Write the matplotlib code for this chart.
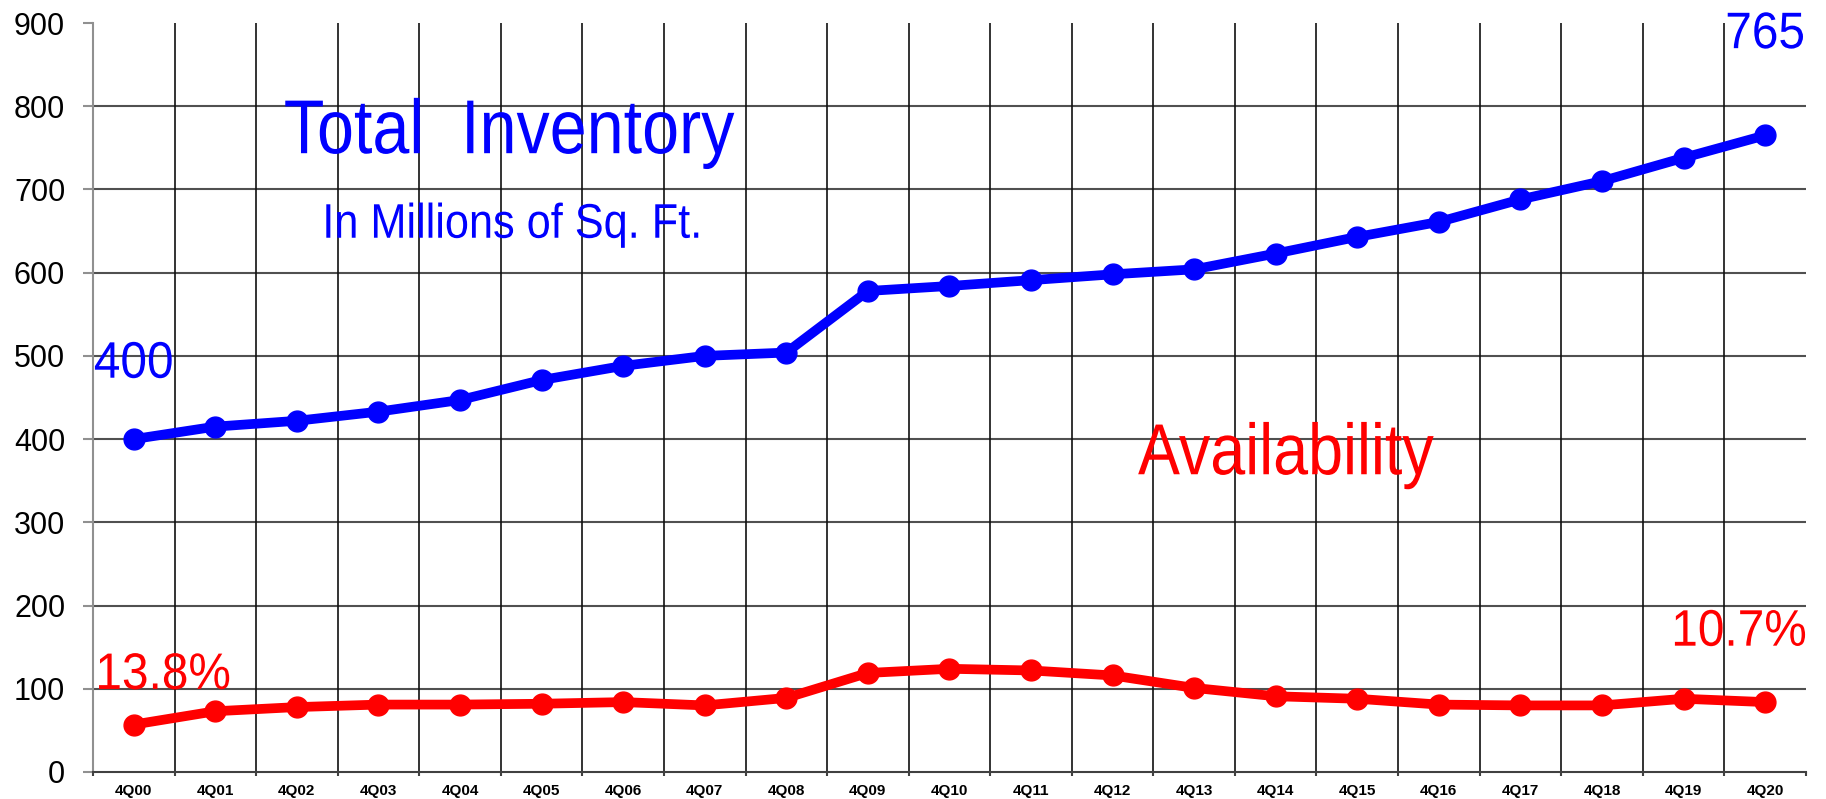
import matplotlib.pyplot as plt
from matplotlib.patheffects import AbstractPathEffect
from matplotlib.transforms import Affine2D

# Donnees
quarters = ["4Q00", "4Q01", "4Q02", "4Q03", "4Q04", "4Q05", "4Q06", "4Q07", "4Q08", "4Q09", "4Q10",
            "4Q11", "4Q12", "4Q13", "4Q14", "4Q15", "4Q16", "4Q17", "4Q18", "4Q19", "4Q20"]
inventory = [400, 415, 422, 433, 447, 471, 488, 500, 504, 578, 584,
             591, 598, 604, 623, 643, 661, 688, 710, 738, 765]
availability = [57, 73, 78, 81, 81, 82, 84, 80, 89, 119, 124,
                122, 116, 101, 91, 88, 81, 80, 80, 88, 84]


# Effet pour imiter une police etroite (Arial Narrow absente) : compression horizontale
class Narrow(AbstractPathEffect):
    def __init__(self, sx):
        super().__init__()
        self.sx = sx

    def draw_path(self, renderer, gc, tpath, affine, rgbFace=None):
        ext = tpath.get_extents()
        cx = (ext.x0 + ext.x1) / 2
        t = Affine2D().translate(-cx, 0).scale(self.sx, 1).translate(cx, 0) + affine
        renderer.draw_path(gc, tpath, t, rgbFace)


plt.rcParams["font.family"] = ["Liberation Sans", "DejaVu Sans"]

fig = plt.figure(figsize=(18.26, 7.99), dpi=100)
ax = fig.add_axes([0.0509, 0.0338, 0.9381, 0.9374])

x = list(range(len(quarters)))
ax.plot(x, inventory, color="#0000ff", lw=7, marker="o", ms=15, zorder=3)
ax.plot(x, availability, color="#ff0000", lw=7, marker="o", ms=15, zorder=3)

ax.set_xlim(-0.5, len(quarters) - 0.5)
ax.set_ylim(0, 900)
ax.set_yticks(range(0, 1000, 100))
ax.tick_params(axis="y", labelsize=22, length=7, color="#909090", width=1.5, pad=13)

# graduations x aux frontieres des categories
bounds = [i - 0.5 for i in range(len(quarters) + 1)]
ax.set_xticks(bounds)
ax.set_xticklabels([])
ax.set_xticks(x, minor=True)
ax.set_xticklabels(quarters, minor=True, fontsize=11, fontweight="bold")
ax.tick_params(axis="x", which="major", length=3, color="#404040", width=1.5)
ax.tick_params(axis="x", which="minor", length=0, pad=9)

for y in range(100, 900, 100):
    ax.axhline(y, color="#505050", lw=1.5, zorder=1)
for b in bounds[1:-1]:
    ax.axvline(b, color="#101010", lw=1.2, zorder=1)

for s in ["top", "right"]:
    ax.spines[s].set_visible(False)
ax.spines["left"].set_color("#909090")
ax.spines["left"].set_linewidth(1.5)
ax.spines["bottom"].set_color("#404040")
ax.spines["bottom"].set_linewidth(1.5)

# textes
words = [Narrow(0.87)]
nums = [Narrow(0.93)]
ax.text(4.6, 767, "Total  Inventory", color="#0000ff", fontsize=55,
        ha="center", va="center", path_effects=words)
ax.text(4.64, 657, "In Millions of Sq. Ft.", color="#0000ff", fontsize=35,
        ha="center", va="center", path_effects=[Narrow(0.89)])
ax.text(0, 490, "400", color="#0000ff", fontsize=37, ha="center", va="center", path_effects=nums)
ax.text(20, 886, "765", color="#0000ff", fontsize=37, ha="center", va="center", path_effects=nums)
ax.text(14.13, 380, "Availability", color="#ff0000", fontsize=52,
        ha="center", va="center", path_effects=words)
ax.text(0.36, 116, "13.8%", color="#ff0000", fontsize=37, ha="center", va="center", path_effects=nums)
ax.text(19.68, 168, "10.7%", color="#ff0000", fontsize=37, ha="center", va="center", path_effects=nums)

fig.savefig("out.png", dpi=100)
